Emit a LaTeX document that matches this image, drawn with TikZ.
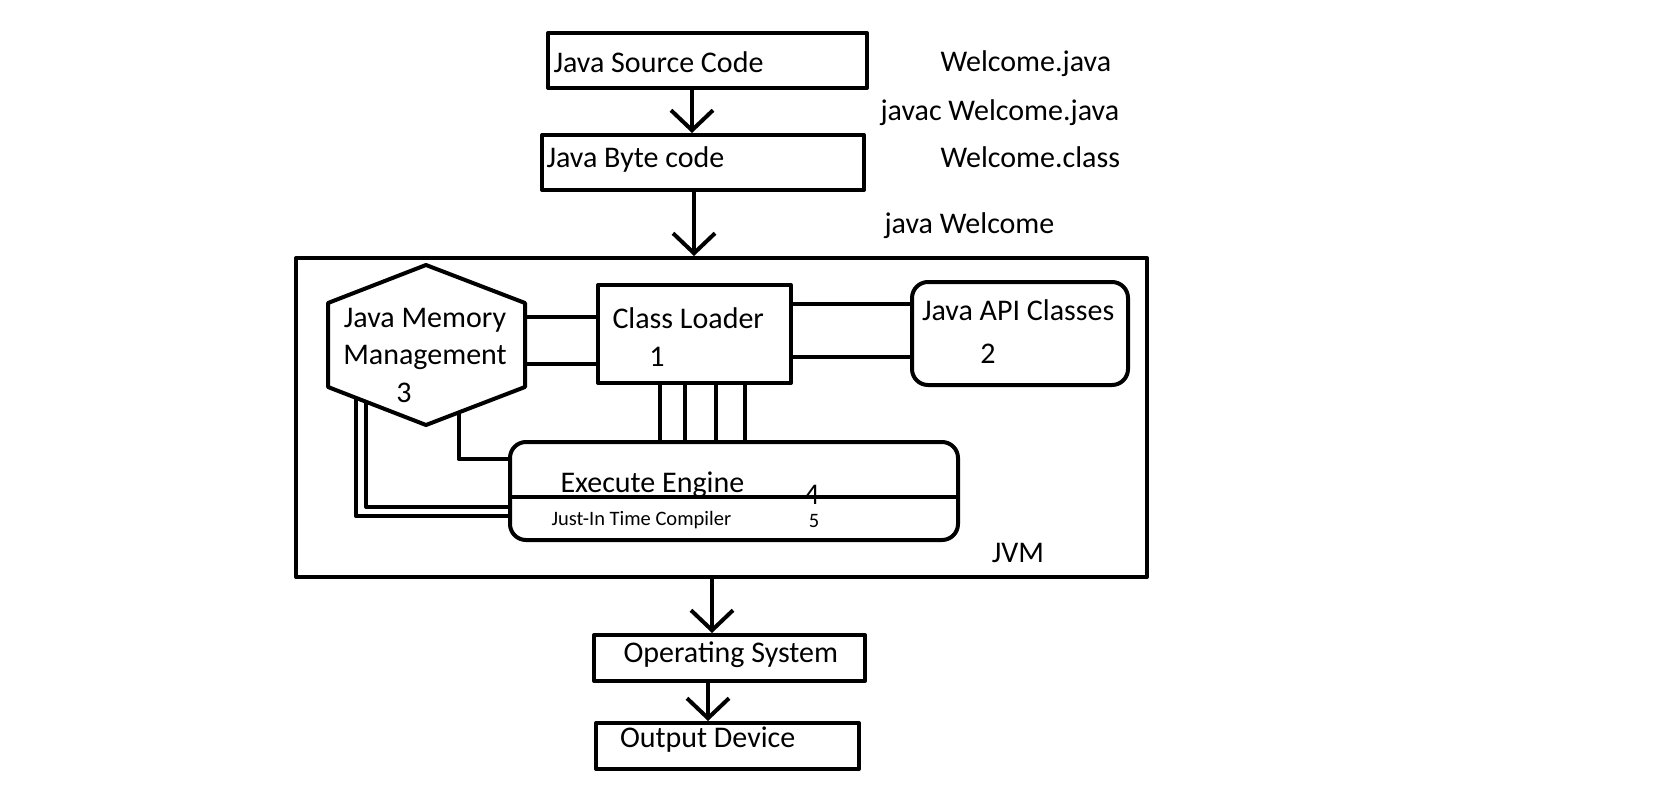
\documentclass[tikz,border=0pt]{standalone}
\usepackage{fontspec}
\setmainfont{Carlito}
\usetikzlibrary{arrows.meta,calc}
\begin{document}
\begin{tikzpicture}[x=1pt,y=-1pt,
  line width=4pt, line join=round,
  box/.style={draw, line width=4pt, rectangle, inner sep=0pt},
  rbox/.style={box, rounded corners=16pt},
  big/.style={font=\fontsize{30}{36}\selectfont, inner sep=0pt, anchor=base west},
  bigc/.style={font=\fontsize{30}{36}\selectfont, inner sep=0pt, anchor=base},
  small/.style={font=\fontsize{20.5}{24}\selectfont, inner sep=0pt, anchor=base west},
  smallc/.style={font=\fontsize{20.5}{24}\selectfont, inner sep=0pt, anchor=base},
  link/.style={line width=4pt},
  arr/.style={line width=4pt, -{Straight Barb[length=20pt,width=42pt]}}]
\fill[white] (0,0) rectangle (1659,811);
\useasboundingbox (0,0) rectangle (1659,811);

% top boxes
\node[box, minimum width=319pt, minimum height=55pt] (src) at (707.5,60.5) {};
\node[big] (srcT) at (551.5,72) {Java Source Code};
\node[box, minimum width=322pt, minimum height=55pt] (byte) at (703,162.5) {};
\node[big] (byteT) at (544.5,167) {Java Byte code};

\node[big] (l1) at (938.5,71) {Welcome.java};
\node[big] (l2) at (878.5,120) {javac Welcome.java};
\node[big] (l3) at (938.5,167) {Welcome.class};
\node[big] (l4) at (882.5,233) {java Welcome};

% JVM
\node[box, minimum width=851pt, minimum height=319pt] (jvm) at (721.5,417.5) {};
\node[bigc] (jvmT) at (1018,562) {JVM};

% hexagon
\coordinate (hT) at (426,265);
\coordinate (hUR) at (525,303);
\coordinate (hBR) at (525,387);
\coordinate (hB) at (426,425);
\coordinate (hBL) at (328,387);
\coordinate (hUL) at (328,303);
\draw[link] (hT) -- (hUR) -- (hBR) -- (hB) -- (hBL) -- (hUL) -- cycle;
\node[bigc] (hexT1) at (425,327) {Java Memory};
\node[bigc] (hexT2) at (425,364) {Management};
\node[bigc] (hexN) at (404,402) {3};

% class loader
\node[box, minimum width=193pt, minimum height=98pt] (cl) at (694.5,334) {};
\node[big] (clT) at (610.5,328) {Class Loader};
\node[bigc] (clN) at (657,366) {1};

% api
\node[rbox, minimum width=216pt, minimum height=103pt] (api) at (1020,333.5) {};
\node[big] (apiT) at (920,320) {Java API Classes};
\node[bigc] (apiN) at (988,363) {2};

% execute engine
\node[rbox, minimum width=448pt, minimum height=98pt] (ee) at (734,491) {};
\draw[link] ([yshift=-57pt]ee.north west) -- ([yshift=-57pt]ee.north east);
\node[big] (eeT) at (558.5,492) {Execute Engine};
\node[bigc] (eeN) at (812,504) {4};
\node[small] (jit) at (549.5,525) {Just-In Time Compiler};
\node[smallc] (jitN) at (814,527) {5};

% connectors hexagon - class loader
\draw[link] ([yshift=17pt]cl.west -| hUR) -- ([yshift=17pt]cl.west);
\draw[link] ([yshift=-30pt]cl.west -| hUR) -- ([yshift=-30pt]cl.west);
% class loader - api
\draw[link] ([yshift=30pt]cl.east) -- ([yshift=30pt]cl.east -| api.west);
\draw[link] ([yshift=-23pt]cl.east) -- ([yshift=-23pt]cl.east -| api.west);
% class loader - execute engine
\foreach \dx in {-34.5,-9.5,21.5,50.5}
  \draw[link] ([xshift=\dx pt]cl.south) -- ([xshift=\dx pt]cl.south |- ee.north);
% hexagon - execute engine
\coordinate (hx1) at ($(hBR)!0.67!(hB)$);
\coordinate (hx2) at ($(hBL)!0.283!(hB)$);
\coordinate (hx3) at ($(hBL)!0.392!(hB)$);
\draw[link] (hx1) |- ([yshift=32pt]ee.west);
\draw[link] (hx2) |- ([yshift=-25pt]ee.west);
\draw[link] (hx3) |- ([yshift=-16pt]ee.west);

% bottom boxes
\node[box, minimum width=271pt, minimum height=46pt] (os) at (729.5,658) {};
\node[big] (osT) at (621.5,662) {Operating System};
\node[box, minimum width=263pt, minimum height=46pt] (out) at (727.5,746) {};
\node[big] (outT) at (618,747) {Output Device};

% arrows
\draw[arr] ([xshift=-15.5pt]src.south) -- ([xshift=-15.5pt]src.south |- byte.north);
\draw[arr] ([xshift=-9pt]byte.south) -- ([xshift=-9pt]byte.south |- jvm.north);
\draw[arr] ([xshift=-9.5pt]jvm.south) -- ([xshift=-9.5pt]jvm.south |- os.north);
\draw[arr] ([xshift=-21.5pt]os.south) -- ([xshift=-21.5pt]os.south |- out.north);
\end{tikzpicture}
\end{document}
